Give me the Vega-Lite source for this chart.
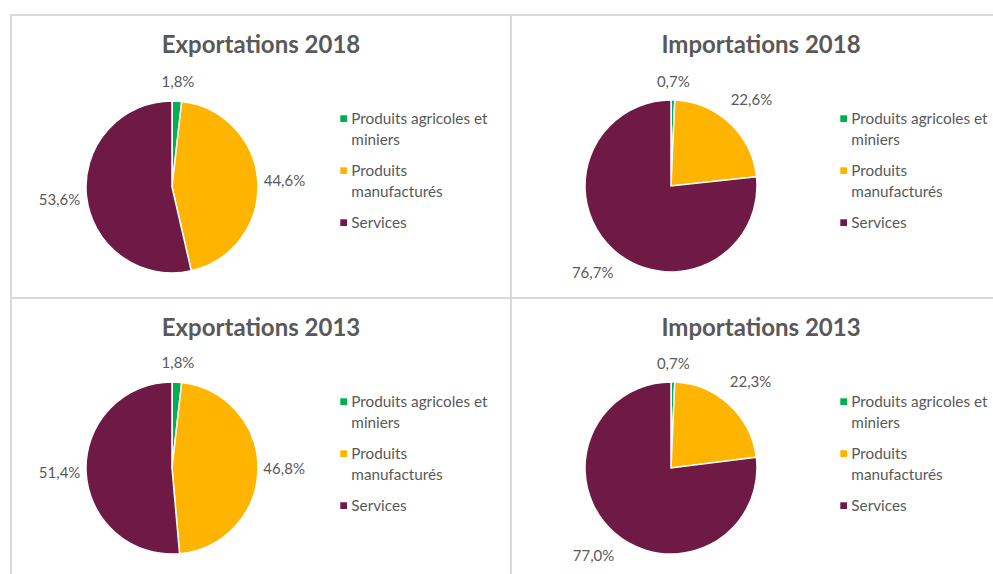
{
  "$schema": "https://vega.github.io/schema/vega-lite/v6.json",
  "padding": {"left": 10, "top": 14, "right": 0, "bottom": 0},
  "background": "white",
  "datasets": {
    "parts": [
      {"panel": "Exportations 2018", "cat": "Produits agricoles et miniers", "part": 0.018},
      {"panel": "Exportations 2018", "cat": "Produits manufacturés", "part": 0.446},
      {"panel": "Exportations 2018", "cat": "Services", "part": 0.536},
      {"panel": "Importations 2018", "cat": "Produits agricoles et miniers", "part": 0.007},
      {"panel": "Importations 2018", "cat": "Produits manufacturés", "part": 0.226},
      {"panel": "Importations 2018", "cat": "Services", "part": 0.767},
      {"panel": "Exportations 2013", "cat": "Produits agricoles et miniers", "part": 0.018},
      {"panel": "Exportations 2013", "cat": "Produits manufacturés", "part": 0.468},
      {"panel": "Exportations 2013", "cat": "Services", "part": 0.514},
      {"panel": "Importations 2013", "cat": "Produits agricoles et miniers", "part": 0.007},
      {"panel": "Importations 2013", "cat": "Produits manufacturés", "part": 0.223},
      {"panel": "Importations 2013", "cat": "Services", "part": 0.770}
    ]
  },
  "data": {"name": "parts"},
  "columns": 2,
  "spacing": 0,
  "bounds": "flush",
  "resolve": {"scale": {"color": "independent", "theta": "independent"}, "legend": {"color": "independent"}},
  "concat": [
    {
      "title": {"text": "Exportations 2018"},
      "width": 500, "height": 283,
      "transform": [{"filter": "datum.panel == 'Exportations 2018'"}],
      "encoding": {
        "theta": {"field": "part", "type": "quantitative", "stack": true},
        "color": {"field": "cat", "type": "nominal", "scale": {"domain": ["Produits agricoles et miniers", "Produits manufacturés", "Services"], "range": ["#00B050", "#FFB400", "#6E1A45"]}, "legend": {"labelExpr": "datum.label == 'Produits agricoles et miniers' ? ['Produits agricoles et', 'miniers'] : datum.label == 'Produits manufacturés' ? ['Produits', 'manufacturés'] : datum.label"}},
        "x": {"datum": 161, "type": "quantitative", "scale": {"domain": [0, 500], "nice": false, "zero": false}, "axis": null},
        "y": {"datum": 172, "type": "quantitative", "scale": {"domain": [0, 283], "nice": false, "zero": false, "reverse": true}, "axis": null}
      },
      "layer": [
        {"mark": {"type": "arc", "outerRadius": 86, "stroke": "white", "strokeWidth": 1.5}},
        {"mark": {"type": "text", "radius": {"expr": "92 + 20*abs(sin(PI*(datum.part_start+datum.part_end))) + 12*abs(cos(PI*(datum.part_start+datum.part_end)))"}, "fontSize": 15, "font": "Lato"}, "encoding": {"text": {"field": "part", "type": "quantitative", "format": ".1%"}, "color": {"value": "#595959"}}}
      ]
    },
    {
      "title": {"text": "Importations 2018"},
      "width": 500, "height": 283,
      "transform": [{"filter": "datum.panel == 'Importations 2018'"}],
      "encoding": {
        "theta": {"field": "part", "type": "quantitative", "stack": true},
        "color": {"field": "cat", "type": "nominal", "scale": {"domain": ["Produits agricoles et miniers", "Produits manufacturés", "Services"], "range": ["#00B050", "#FFB400", "#6E1A45"]}, "legend": {"labelExpr": "datum.label == 'Produits agricoles et miniers' ? ['Produits agricoles et', 'miniers'] : datum.label == 'Produits manufacturés' ? ['Produits', 'manufacturés'] : datum.label"}},
        "x": {"datum": 160, "type": "quantitative", "scale": {"domain": [0, 500], "nice": false, "zero": false}, "axis": null},
        "y": {"datum": 171, "type": "quantitative", "scale": {"domain": [0, 283], "nice": false, "zero": false, "reverse": true}, "axis": null}
      },
      "layer": [
        {"mark": {"type": "arc", "outerRadius": 86, "stroke": "white", "strokeWidth": 1.5}},
        {"mark": {"type": "text", "radius": {"expr": "93 + 24*abs(sin(PI*(datum.part_start+datum.part_end))) + 11*abs(cos(PI*(datum.part_start+datum.part_end)))"}, "fontSize": 15, "font": "Lato"}, "encoding": {"text": {"field": "part", "type": "quantitative", "format": ".1%"}, "color": {"value": "#595959"}}}
      ]
    },
    {
      "title": {"text": "Exportations 2013"},
      "width": 500, "height": 283,
      "transform": [{"filter": "datum.panel == 'Exportations 2013'"}],
      "encoding": {
        "theta": {"field": "part", "type": "quantitative", "stack": true},
        "color": {"field": "cat", "type": "nominal", "scale": {"domain": ["Produits agricoles et miniers", "Produits manufacturés", "Services"], "range": ["#00B050", "#FFB400", "#6E1A45"]}, "legend": {"labelExpr": "datum.label == 'Produits agricoles et miniers' ? ['Produits agricoles et', 'miniers'] : datum.label == 'Produits manufacturés' ? ['Produits', 'manufacturés'] : datum.label"}},
        "x": {"datum": 161, "type": "quantitative", "scale": {"domain": [0, 500], "nice": false, "zero": false}, "axis": null},
        "y": {"datum": 170, "type": "quantitative", "scale": {"domain": [0, 283], "nice": false, "zero": false, "reverse": true}, "axis": null}
      },
      "layer": [
        {"mark": {"type": "arc", "outerRadius": 86, "stroke": "white", "strokeWidth": 1.5}},
        {"mark": {"type": "text", "radius": {"expr": "92 + 20*abs(sin(PI*(datum.part_start+datum.part_end))) + 12*abs(cos(PI*(datum.part_start+datum.part_end)))"}, "fontSize": 15, "font": "Lato"}, "encoding": {"text": {"field": "part", "type": "quantitative", "format": ".1%"}, "color": {"value": "#595959"}}}
      ]
    },
    {
      "title": {"text": "Importations 2013"},
      "width": 500, "height": 283,
      "transform": [{"filter": "datum.panel == 'Importations 2013'"}],
      "encoding": {
        "theta": {"field": "part", "type": "quantitative", "stack": true},
        "color": {"field": "cat", "type": "nominal", "scale": {"domain": ["Produits agricoles et miniers", "Produits manufacturés", "Services"], "range": ["#00B050", "#FFB400", "#6E1A45"]}, "legend": {"labelExpr": "datum.label == 'Produits agricoles et miniers' ? ['Produits agricoles et', 'miniers'] : datum.label == 'Produits manufacturés' ? ['Produits', 'manufacturés'] : datum.label"}},
        "x": {"datum": 160, "type": "quantitative", "scale": {"domain": [0, 500], "nice": false, "zero": false}, "axis": null},
        "y": {"datum": 170, "type": "quantitative", "scale": {"domain": [0, 283], "nice": false, "zero": false, "reverse": true}, "axis": null}
      },
      "layer": [
        {"mark": {"type": "arc", "outerRadius": 86, "stroke": "white", "strokeWidth": 1.5}},
        {"mark": {"type": "text", "radius": {"expr": "93 + 24*abs(sin(PI*(datum.part_start+datum.part_end))) + 11*abs(cos(PI*(datum.part_start+datum.part_end)))"}, "fontSize": 15, "font": "Lato"}, "encoding": {"text": {"field": "part", "type": "quantitative", "format": ".1%"}, "color": {"value": "#595959"}}}
      ]
    }
  ],
  "config": {
    "locale": {"number": {"decimal": ",", "thousands": " ", "grouping": [3], "currency": ["", " €"], "percent": "%"}},
    "view": {"stroke": "#D9D9D9", "strokeWidth": 2},
    "font": "Lato",
    "style": {"guide-label": {"lineHeight": 21}},
    "title": {"font": "Lato", "fontSize": 24, "fontWeight": "bold", "color": "#595959", "anchor": "middle", "offset": -43, "baseline": "middle"},
    "legend": {
      "orient": "none", "legendX": 325, "legendY": 96, "title": null,
      "symbolType": "square", "symbolSize": 45, "symbolStrokeWidth": 0,
      "labelFont": "Lato", "labelFontSize": 15.3, "labelColor": "#595959", "labelLimit": 220, "labelOffset": 0,
      "rowPadding": 15, "labelBaseline": "middle"
    }
  }
}
